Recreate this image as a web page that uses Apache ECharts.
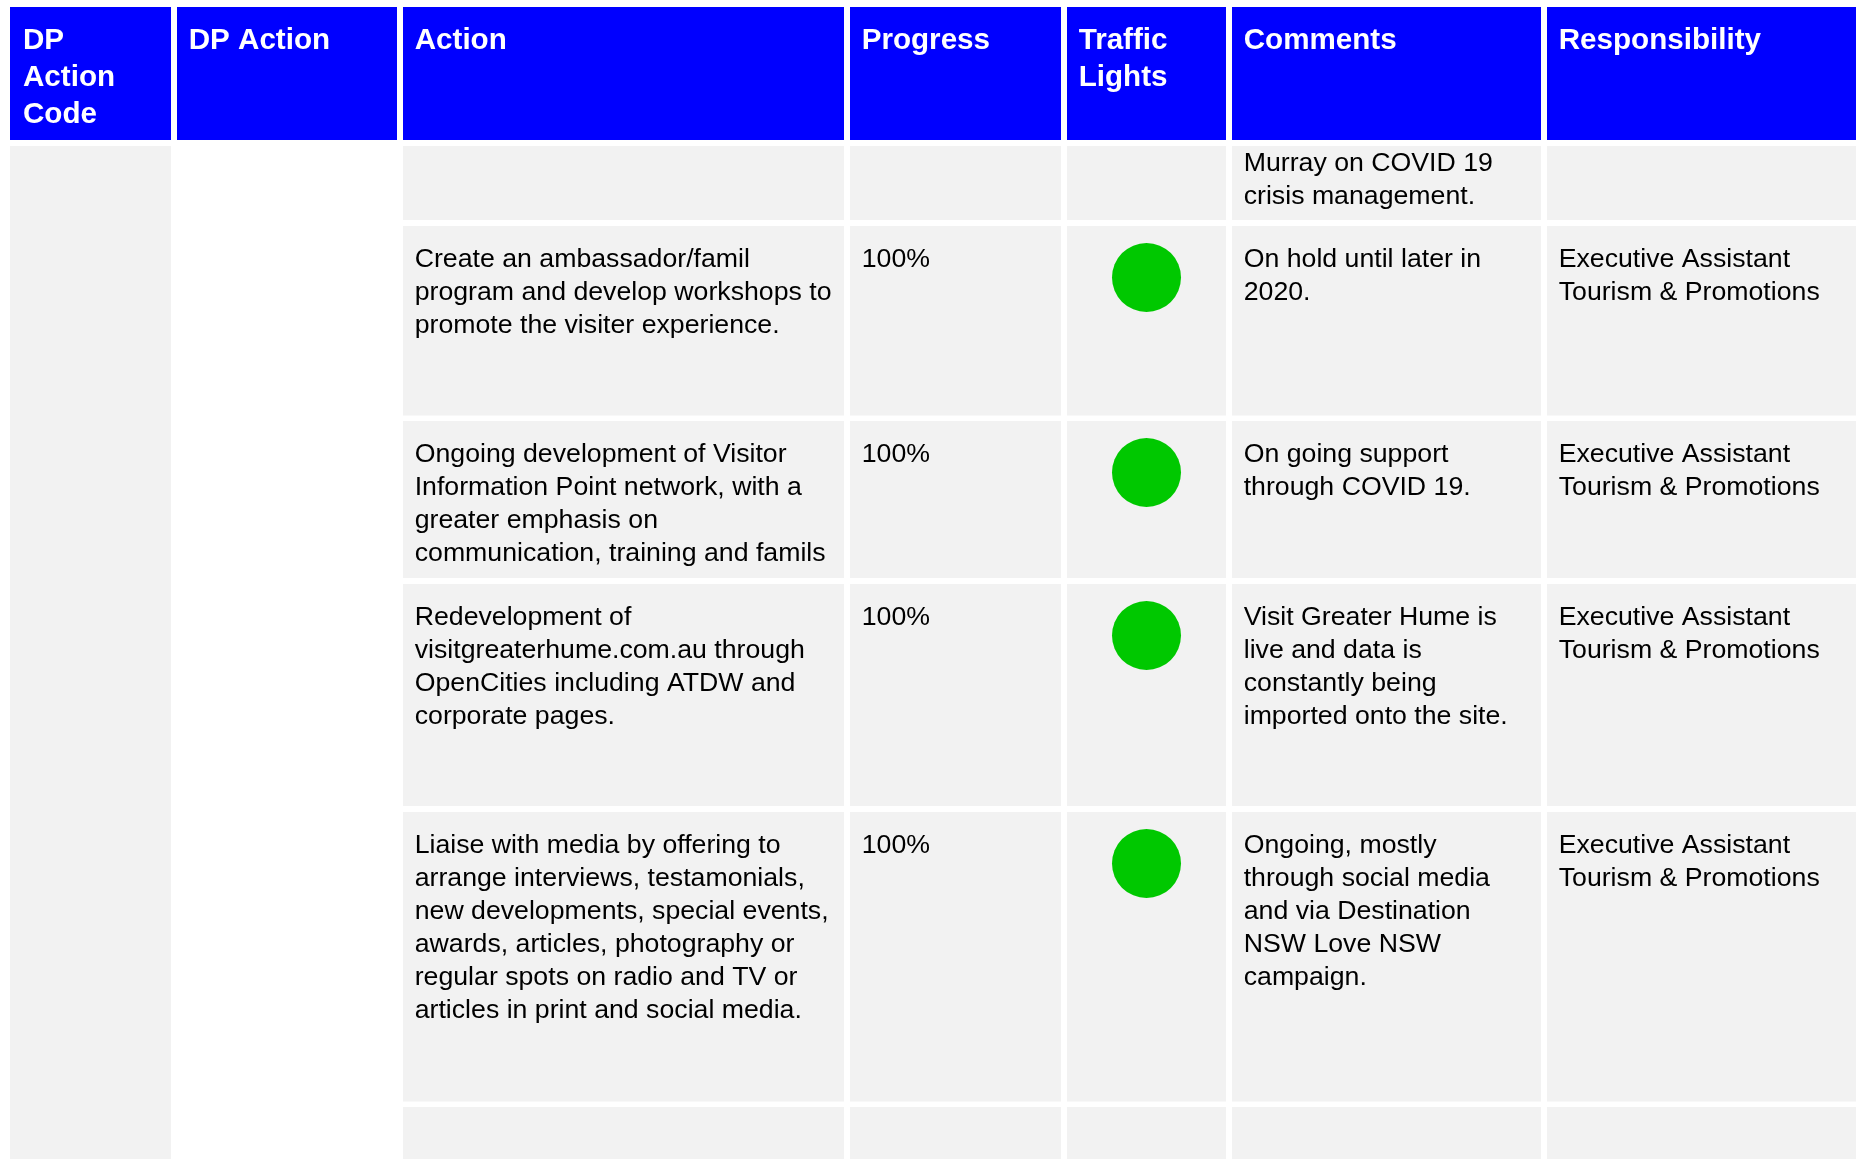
<!DOCTYPE html>
<html><head><meta charset="utf-8">
<script src="https://cdn.jsdelivr.net/npm/echarts@6/dist/echarts.min.js"></script>
<style>html,body{margin:0;padding:0;background:#fff}#c{width:1856px;height:1159px}</style>
</head><body><div id="c"></div>
<script>
// ---- table content ----
const columns = ['DP\nAction\nCode', 'DP Action', 'Action', 'Progress', 'Traffic\nLights', 'Comments', 'Responsibility'];
const dpActionCode = ['', '', '', '', '', ''];
const dpAction = ['', '', '', '', '', ''];
const actions = [
  '',
  'Create an ambassador/famil\nprogram and develop workshops to\npromote the visiter experience.',
  'Ongoing development of Visitor\nInformation Point network, with a\ngreater emphasis on\ncommunication, training and famils',
  'Redevelopment of\nvisitgreaterhume.com.au through\nOpenCities including ATDW and\ncorporate pages.',
  'Liaise with media by offering to\narrange interviews, testamonials,\nnew developments, special events,\nawards, articles, photography or\nregular spots on radio and TV or\narticles in print and social media.',
  ''
];
const progress = ['', '100%', '100%', '100%', '100%', ''];
const trafficLights = ['', 'green', 'green', 'green', 'green', ''];
const comments = [
  'Murray on COVID 19\ncrisis management.',
  'On hold until later in\n2020.',
  'On going support\nthrough COVID 19.',
  'Visit Greater Hume is\nlive and data is\nconstantly being\nimported onto the site.',
  'Ongoing, mostly\nthrough social media\nand via Destination\nNSW Love NSW\ncampaign.',
  ''
];
const responsibility = [
  '',
  'Executive Assistant\nTourism & Promotions',
  'Executive Assistant\nTourism & Promotions',
  'Executive Assistant\nTourism & Promotions',
  'Executive Assistant\nTourism & Promotions',
  ''
];

// ---- layout (page units mapped through hidden value axes) ----
const colEdges = [[10,171],[177,397],[403,844],[850,1061],[1067,1226],[1232,1541],[1547,1862]];
const headerEdge = [7,140];
const rowEdges = [[146,220],[226,415.5],[421,578],[584,806],[812,1101.5],[1107,1170]];
const rowTextTop = [1.2, 17.5, 17.5, 17.5, 17.5, 17.5];
const lightColors = { green: '#00C800' };
const columnData = [dpActionCode, dpAction, actions, progress, trafficLights, comments, responsibility];

const cells = [];
columns.forEach((_, c) => cells.push([c, -1]));
cells.push([0, 0]); // merged DP Action Code column
for (let r = 0; r < rowEdges.length; r++) {
  for (let c = 2; c < columns.length; c++) cells.push([c, r]);
}

const bodyFont = '26.7px "Liberation Sans", Arial, sans-serif';
const headFont = 'bold 29.6px "Liberation Sans", Arial, sans-serif';

function renderItem(params, api) {
  const c = api.value(0), r = api.value(1);
  const xe = colEdges[c];
  let y0, y1;
  if (r < 0) { y0 = headerEdge[0]; y1 = headerEdge[1]; }
  else if (c === 0) { y0 = rowEdges[0][0]; y1 = rowEdges[rowEdges.length - 1][1]; }
  else { y0 = rowEdges[r][0]; y1 = rowEdges[r][1]; }
  const p0 = api.coord([xe[0], y0]);
  const p1 = api.coord([xe[1], y1]);
  const children = [{
    type: 'rect',
    shape: { x: p0[0], y: p0[1], width: p1[0] - p0[0], height: p1[1] - p0[1] },
    style: { fill: r < 0 ? '#0000FF' : '#F2F2F2' }
  }];
  if (r < 0) {
    children.push({ type: 'text', style: {
      text: columns[c], x: p0[0] + (c === 0 ? 13 : 11.7), y: p0[1] + 15.2, font: headFont,
      fill: '#FFFFFF', lineHeight: 37.2, align: 'left', verticalAlign: 'top' } });
  } else if (c === 4) {
    const st = trafficLights[r];
    if (st) children.push({ type: 'circle',
      shape: { cx: (p0[0] + p1[0]) / 2, cy: p0[1] + 51.5, r: 34.5 },
      style: { fill: lightColors[st] } });
  } else if (c > 0) {
    const t = columnData[c][r];
    if (t) children.push({ type: 'text', style: {
      text: t, x: p0[0] + 11.7, y: p0[1] + rowTextTop[r], font: bodyFont,
      fill: '#000000', lineHeight: 33, align: 'left', verticalAlign: 'top' } });
  }
  return { type: 'group', children };
}

const chart = echarts.init(document.getElementById('c'));
chart.setOption({
  animation: false,
  backgroundColor: '#FFFFFF',
  grid: { left: 0, right: 0, top: 0, bottom: 0 },
  xAxis: { type: 'value', min: 0, max: 1856, show: false },
  yAxis: { type: 'value', min: 0, max: 1159, inverse: true, show: false },
  series: [{
    type: 'custom',
    renderItem,
    data: cells,
    clip: true,
    silent: true
  }]
});
</script>
</body></html>
